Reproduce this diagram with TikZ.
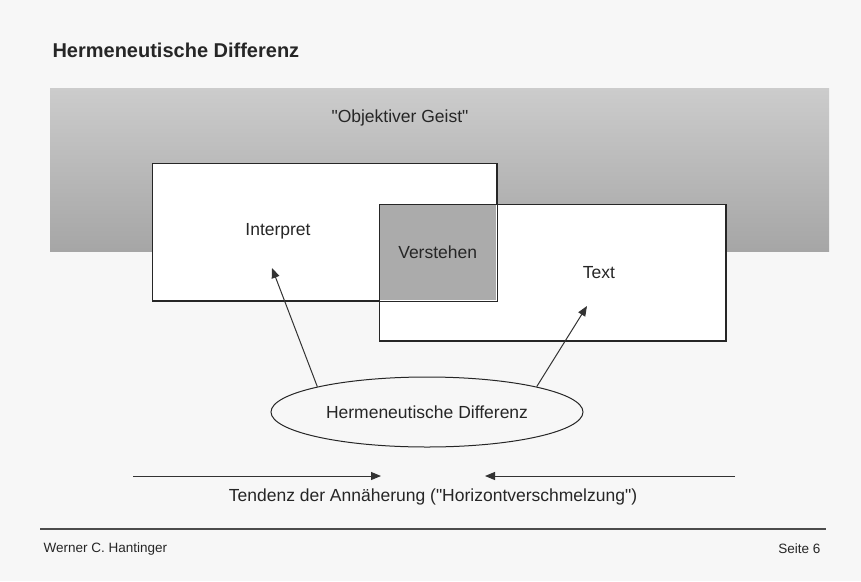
\documentclass[tikz,border=0pt]{standalone}
\usepackage{fontspec}
\setmainfont{Liberation Sans}[Ligatures=TeXOff]
\usetikzlibrary{shapes.geometric,arrows.meta}
\begin{document}
\begin{tikzpicture}[x=1pt,y=-1pt,
  frame/.style={draw=black!85,line width=1pt},
  box/.style={frame,fill=white,inner sep=0pt,anchor=north west},
  lbl/.style={font=\fontsize{17.5}{20}\selectfont,text=black!85},
  arr/.style={-{Triangle[length=10pt,width=8pt]},line width=1pt,draw=black!80}]
\useasboundingbox (0,0) rectangle (861,581);
\fill[black!3] (0,0) rectangle (861,581);

% heading
\node[anchor=west,font=\bfseries\fontsize{20}{24}\selectfont,text=black!85] (title) at (49,50) {Hermeneutische Differenz};

% shaded band of the "objective mind"
\shade[top color=black!20, middle color=black!27, bottom color=black!35] (50,88) rectangle (829,251);
\node[lbl] (geist) at (400,118) {"Objektiver Geist"};

% the two horizons
\node[box, minimum width=344pt, minimum height=137pt] (interp) at (152,163) {};
\node[box, minimum width=346pt, minimum height=136pt] (text) at (379,204) {};
\node[fill=black!33, inner sep=0pt, anchor=north west, minimum width=117pt, minimum height=96pt] (verst) at (379,204) {};
\draw[frame] (interp.north west) rectangle (interp.south east);
\draw[frame] (text.north west) rectangle (text.south east);

\node[lbl] (interpL) at (278,231) {Interpret};
\node[lbl] at (verst.center) {Verstehen};
\node[lbl] (textL) at (599,273) {Text};

% hermeneutic difference
\node[ellipse, frame, lbl, minimum width=312pt, minimum height=70pt] (diff) at (427,412) {Hermeneutische Differenz};
\coordinate (tipI) at (272,268);
\coordinate (tipT) at (587,306);
\draw[arr] (diff.167) -- (tipI);
\draw[arr] (diff.13) -- (tipT);

% converging horizons
\coordinate (la) at (133,476);
\coordinate (lb) at (381,476);
\coordinate (ra) at (735,476);
\coordinate (rb) at (485,476);
\draw[arr] (la) -- (lb);
\draw[arr] (ra) -- (rb);
\node[lbl] (tend) at (433,497) {Tendenz der Annäherung ("Horizontverschmelzung")};

% footer
\coordinate (rl) at (40,529);
\coordinate (rr) at (826,529);
\draw[line width=1.3pt, draw=black!70] (rl) -- (rr);
\node[anchor=west, font=\fontsize{13.5}{16}\selectfont, text=black!85] (author) at (40,549) {Werner C. Hantinger};
\node[anchor=east, font=\fontsize{13.5}{16}\selectfont, text=black!85] (page) at (824,549) {Seite 6};
\end{tikzpicture}
\end{document}
